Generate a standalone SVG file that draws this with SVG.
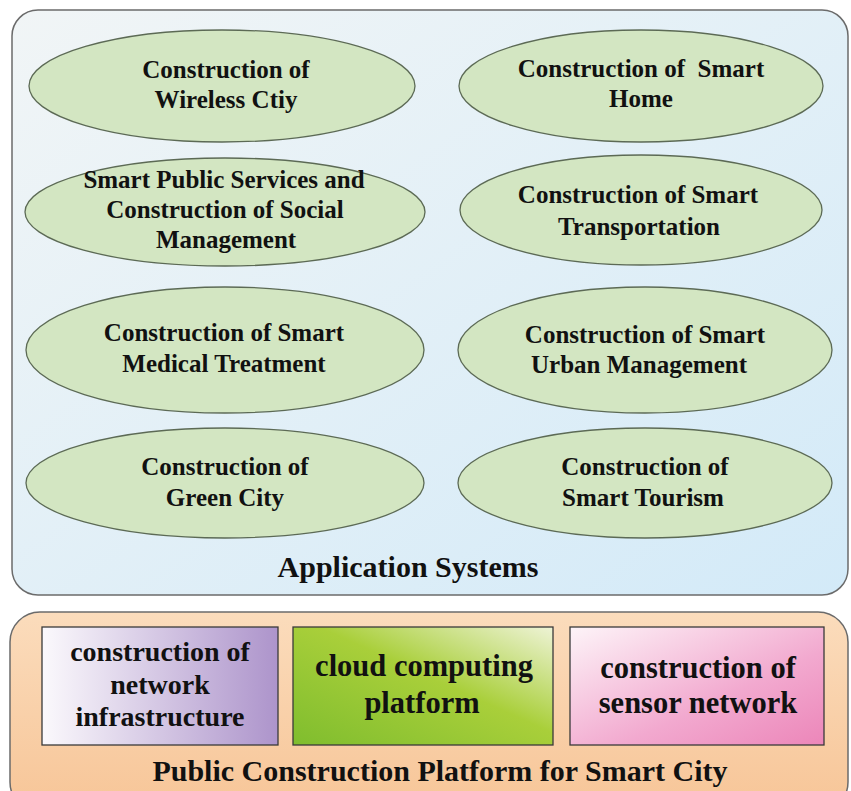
<svg xmlns="http://www.w3.org/2000/svg" width="851" height="791" viewBox="0 0 851 791">
<defs>
<linearGradient id="gBlue" x1="0" y1="0" x2="1" y2="1"><stop offset="0" stop-color="#f1f5f6"/><stop offset="1" stop-color="#d3eaf8"/></linearGradient>
<linearGradient id="gPeach" x1="0" y1="0" x2="0" y2="1"><stop offset="0" stop-color="#fbdcbc"/><stop offset="1" stop-color="#f7c597"/></linearGradient>
<linearGradient id="gPurple" x1="0" y1="0" x2="1" y2="0"><stop offset="0" stop-color="#fbf9fc"/><stop offset="1" stop-color="#ad94cb"/></linearGradient>
<linearGradient id="gGreen" x1="1" y1="0" x2="0" y2="1"><stop offset="0" stop-color="#eef3d6"/><stop offset="0.45" stop-color="#a9cf3a"/><stop offset="1" stop-color="#7fbd2e"/></linearGradient>
<linearGradient id="gPink" x1="0" y1="0" x2="1" y2="1"><stop offset="0" stop-color="#fdf4f8"/><stop offset="0.6" stop-color="#f2a9cf"/><stop offset="1" stop-color="#ec86b9"/></linearGradient>
</defs>
<style>
.panel{stroke:#6b6b6b;stroke-width:1.5}
.ell{fill:#d3e6c2;stroke:#5c6a55;stroke-width:1.3}
.box{stroke:#3a3a3a;stroke-width:1.3}
text{font-family:"Liberation Serif","Times New Roman",serif;font-weight:bold;fill:#111;text-anchor:middle}
.t{font-size:25px}
.b1{font-size:28px}
.b{font-size:30.5px}
.h{font-size:30px}
</style>
<g id="application-systems">
<rect class="panel" x="12" y="10" width="836" height="585" rx="26" fill="url(#gBlue)"/>
<text class="h" x="408" y="577">Application Systems</text>
</g>
<g id="wireless-city">
<ellipse class="ell" cx="222" cy="86" rx="193" ry="56"/>
<text class="t" x="226" y="78">Construction of</text>
<text class="t" x="226" y="108">Wireless Ctiy</text>
</g>
<g id="smart-home">
<ellipse class="ell" cx="641" cy="86" rx="182" ry="56"/>
<text class="t" x="641" y="77" xml:space="preserve">Construction of  Smart</text>
<text class="t" x="641" y="107">Home</text>
</g>
<g id="smart-public">
<ellipse class="ell" cx="225" cy="212" rx="200" ry="54"/>
<text class="t" x="224" y="188">Smart Public Services and</text>
<text class="t" x="225" y="218">Construction of Social</text>
<text class="t" x="226" y="248">Management</text>
</g>
<g id="smart-transportation">
<ellipse class="ell" cx="641" cy="210" rx="181" ry="55"/>
<text class="t" x="638" y="203">Construction of Smart</text>
<text class="t" x="639" y="235">Transportation</text>
</g>
<g id="smart-medical">
<ellipse class="ell" cx="225" cy="350" rx="199" ry="63"/>
<text class="t" x="224" y="341">Construction of Smart</text>
<text class="t" x="224" y="372">Medical Treatment</text>
</g>
<g id="smart-urban">
<ellipse class="ell" cx="645" cy="350" rx="187" ry="63"/>
<text class="t" x="645" y="343">Construction of Smart</text>
<text class="t" x="639" y="373">Urban Management</text>
</g>
<g id="green-city">
<ellipse class="ell" cx="225" cy="483" rx="199" ry="55"/>
<text class="t" x="225" y="475">Construction of</text>
<text class="t" x="225" y="506">Green City</text>
</g>
<g id="smart-tourism">
<ellipse class="ell" cx="645" cy="483" rx="187" ry="55"/>
<text class="t" x="645" y="475">Construction of</text>
<text class="t" x="643" y="506">Smart Tourism</text>
</g>
<g id="public-platform">
<rect class="panel" x="10" y="612" width="838" height="200" rx="30" fill="url(#gPeach)"/>
<text class="h" x="440" y="781">Public Construction Platform for Smart City</text>
</g>
<g id="network-infrastructure">
<rect class="box" x="42" y="627" width="236" height="118" fill="url(#gPurple)"/>
<text class="b1" x="160" y="661">construction of</text>
<text class="b1" x="160" y="694">network</text>
<text class="b1" x="160" y="726">infrastructure</text>
</g>
<g id="cloud-computing">
<rect class="box" x="293" y="627" width="260" height="118" fill="url(#gGreen)"/>
<text class="b" x="424" y="676">cloud computing</text>
<text class="b" x="422" y="713">platform</text>
</g>
<g id="sensor-network">
<rect class="box" x="570" y="627" width="254" height="118" fill="url(#gPink)"/>
<text class="b" x="698" y="678">construction of</text>
<text class="b" x="698" y="713">sensor network</text>
</g>
<g id="connectors"/>
</svg>
